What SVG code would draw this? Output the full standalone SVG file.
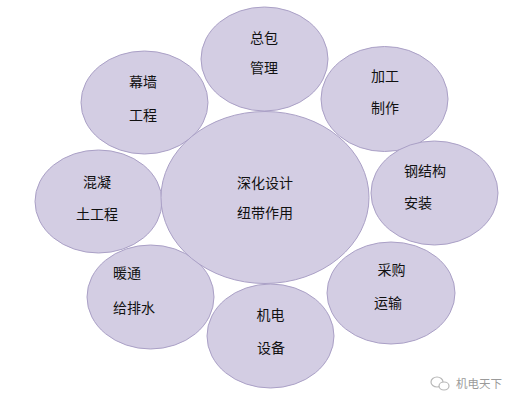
<svg xmlns="http://www.w3.org/2000/svg" width="519" height="407" viewBox="0 0 519 407">
<style>
.n{fill:#d3cde3;stroke:#aaa0c6;stroke-width:1}
text{font-family:"Noto Sans CJK SC","Noto Sans",sans-serif;font-size:14px;fill:#111}
.m{text-anchor:middle}
.wm{font-size:11.5px;fill:#9a9a9a}
</style>
<rect width="519" height="407" fill="#ffffff"/>
<g id="connectors"></g>
<g id="n-zongbao"><ellipse class="n" cx="264.5" cy="59" rx="63.5" ry="52"/><text class="m" x="264" y="43">总包</text><text class="m" x="264" y="73">管理</text></g>
<g id="n-muqiang"><ellipse class="n" cx="144.5" cy="102.5" rx="63.5" ry="51.5"/><text class="m" x="143" y="87">幕墙</text><text class="m" x="143" y="120">工程</text></g>
<g id="n-jiagong"><ellipse class="n" cx="384.5" cy="99" rx="63.5" ry="52.5"/><text class="m" x="385" y="81">加工</text><text class="m" x="385" y="113">制作</text></g>
<g id="n-hunning"><ellipse class="n" cx="98.5" cy="201.5" rx="63.5" ry="51.5"/><text class="m" x="97" y="187">混凝</text><text class="m" x="97" y="219">土工程</text></g>
<g id="n-gangjiegou"><ellipse class="n" cx="434.5" cy="193" rx="63.5" ry="52"/><text x="404" y="176">钢结构</text><text x="404" y="208">安装</text></g>
<g id="n-nuantong"><ellipse class="n" cx="150.5" cy="297" rx="63.5" ry="52"/><text x="113" y="278">暖通</text><text x="113" y="313">给排水</text></g>
<g id="n-caigou"><ellipse class="n" cx="391" cy="293" rx="64" ry="51"/><text class="m" x="391.5" y="275">采购</text><text class="m" x="388" y="308">运输</text></g>
<g id="n-jidian"><ellipse class="n" cx="270.5" cy="336" rx="63.5" ry="52"/><text class="m" x="270.5" y="320">机电</text><text class="m" x="271" y="353">设备</text></g>
<g id="n-center"><ellipse class="n" cx="265" cy="197.5" rx="104" ry="86"/><text class="m" x="265" y="188">深化设计</text><text class="m" x="265" y="218">纽带作用</text></g>
<g id="watermark">
<ellipse cx="437" cy="382" rx="6" ry="5" fill="none" stroke="#b8b8b8" stroke-width="1.2"/>
<ellipse cx="444" cy="386" rx="5" ry="4" fill="#fff" stroke="#b8b8b8" stroke-width="1.2"/>
<text class="wm" x="456" y="388">机电天下</text>
</g>
</svg>
